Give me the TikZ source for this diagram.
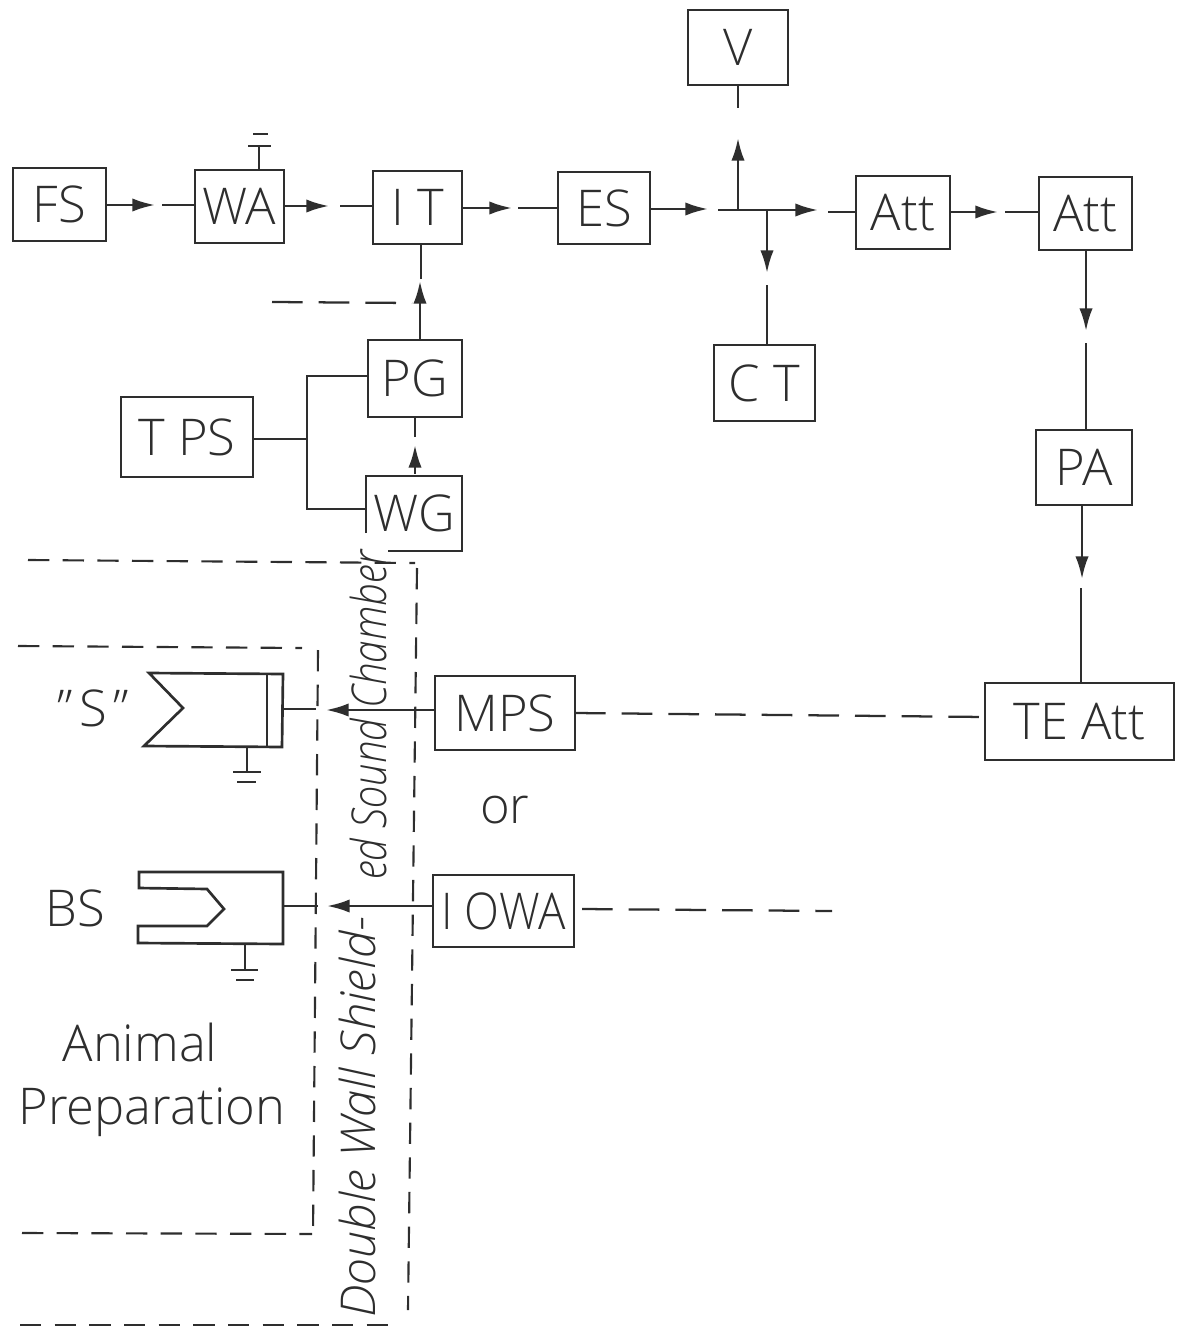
\documentclass[tikz,border=0pt]{standalone}
\usepackage{fontspec}
\setmainfont{Open Sans Light}
\usetikzlibrary{arrows.meta,calc}
\definecolor{ink}{HTML}{2E2E2E}
\tikzset{
  wire/.style={draw=ink,line width=2pt},
  arr/.style={wire,-{Latex[length=17pt,width=10pt]}},
  bx/.style={draw=ink,line width=2pt,inner sep=0pt,text=ink,font=\fontsize{38}{38}\selectfont},
  plain/.style={inner sep=0pt,text=ink,font=\fontsize{38}{38}\selectfont},
  wall/.style={draw=ink,line width=1.6pt,dash pattern=on 16pt off 10pt},
  longdash/.style={draw=ink,line width=1.7pt,dash pattern=on 23pt off 12pt},
  walltext/.style={inner sep=0pt,text=ink,rotate=90,font=\itshape\fontsize{36}{36}\selectfont},
  outline/.style={draw=ink,line width=2pt,line join=miter}
}
\newcommand{\pbox}[6]{\node[bx,minimum width={(#4-#2)*0.75pt},minimum height={(#5-#3)*0.75pt}] (#1) at ({(#2+#4)/2},{(#3+#5)/2}) {#6};}
\begin{document}
\begin{tikzpicture}[x=0.75pt,y=-0.75pt]
\useasboundingbox (0,0) rectangle (1178,1327);
% boxes
\pbox{FS}{13}{168}{106}{241}{FS}
\pbox{WA}{195}{170}{284}{243}{WA}
\pbox{IT}{373}{171}{462}{244}{I T}
\pbox{ES}{558}{172}{650}{244}{ES}
\pbox{V}{688}{10}{788}{85}{V}
\pbox{CT}{714}{345}{815}{421}{C T}
\pbox{AttA}{856}{176}{950}{249}{Att}
\pbox{AttB}{1039}{177}{1132}{250}{Att}
\pbox{PA}{1036}{430}{1132}{505}{PA}
\pbox{TEAtt}{985}{683}{1174}{760}{TE Att}
\pbox{MPS}{435}{676}{575}{750}{MPS}
\pbox{IOWA}{433}{875}{574}{947}{\scalebox{.9}[1]{I OWA}}
\pbox{TPS}{121}{397}{253}{477}{T PS}
\pbox{PG}{368}{340}{462}{417}{PG}
\node[plain,minimum width=72pt,minimum height=57pt] (WG) at (414,513) {WG};
\draw[outline] (366,533) -- (366,476) -- (462,476) -- (462,551) -- (388,551);
% coordinates
\coordinate (t1) at (155,205); \coordinate (r1) at (162,205);
\coordinate (t2) at (329,206); \coordinate (r2) at (340,206);
\coordinate (t3) at (512,208); \coordinate (r3) at (518,208);
\coordinate (t4) at (708,209); \coordinate (j0) at (718,210);
\coordinate (ju) at (738,210); \coordinate (jd) at (767,210);
\coordinate (t5) at (818,210); \coordinate (r5) at (828,212);
\coordinate (tu) at (738,138); \coordinate (ru) at (738,108);
\coordinate (td) at (767,273); \coordinate (rd) at (767,285);
\coordinate (t6) at (998,212); \coordinate (r6) at (1005,212);
\coordinate (t7) at (1086,331); \coordinate (r7) at (1086,343);
\coordinate (t8) at (1082,579); \coordinate (r8) at (1081,588);
\coordinate (t9) at (420,281); \coordinate (r9) at (421,279);
\coordinate (t10) at (415,445); \coordinate (r10) at (415,437);
\coordinate (dl) at (272,302); \coordinate (dr) at (412,303);
\coordinate (bus) at (307,439); \coordinate (bust) at (307,376); \coordinate (busb) at (307,509);
\coordinate (ts) at (326,710); \coordinate (ss) at (316,709);
\coordinate (tb) at (327,906); \coordinate (sb) at (318,906);
\coordinate (ie) at (832,911); \coordinate (me) at (985,717); \coordinate (ms) at (575,713);
\coordinate (is) at (582,909);
% signal chain
\draw[arr] (FS.east |- t1) -- (t1); \draw[wire] (r1) -- (WA.west |- r1);
\draw[arr] (WA.east |- t2) -- (t2); \draw[wire] (r2) -- (IT.west |- r2);
\draw[arr] (IT.east |- t3) -- (t3); \draw[wire] (r3) -- (ES.west |- r3);
\draw[arr] (ES.east |- t4) -- (t4);
\draw[arr] (j0) -- (t5); \draw[wire] (r5) -- (AttA.west |- r5);
\draw[arr] (ju) -- (tu); \draw[wire] (ru) -- (ru |- V.south);
\draw[arr] (jd) -- (td); \draw[wire] (rd) -- (rd |- CT.north);
\draw[arr] (AttA.east |- t6) -- (t6); \draw[wire] (r6) -- (AttB.west |- r6);
\draw[arr] (t7 |- AttB.south) -- (t7); \draw[wire] (r7) -- (r7 |- PA.north);
\draw[arr] (t8 |- PA.south) -- (t8); \draw[wire] (r8) -- (r8 |- TEAtt.north);
\draw[arr] (t9 |- PG.north) -- (t9); \draw[wire] (r9) -- (r9 |- IT.south);
\draw[arr] (t10 |- WG.north) ++(0,-1) -- (t10); \draw[wire] (r10) -- (r10 |- PG.south);
\draw[longdash] (dl) -- (dr);
\draw[wire] (TPS.east |- bus) -- (bus);
\draw[wire] (PG.west |- bust) -- (bust) -- (busb) -- (366,509);
\draw[arr] (MPS.west |- ts) -- (ts); \draw[wire] (ss) -- (283,709);
\draw[arr] (IOWA.west |- tb) -- (tb); \draw[wire] (sb) -- (283,906);
\draw[longdash] (ms) -- (me);
\draw[longdash] (is) -- (ie);
% speaker S
\draw[outline] (149,673) -- (283,674) -- (282,747) -- (144,746) -- (183,708) -- cycle;
\draw[outline] (267,674) -- (267,747);
\draw[wire] (247,747) -- (247,772); \draw[wire] (233,772) -- (261,772); \draw[wire] (237,782) -- (256,782);
% BS
\draw[outline] (139,872) -- (283,872) -- (283,944) -- (138,943) -- (138,926) -- (207,926) -- (224,909) -- (207,889) -- (139,888) -- cycle;
\draw[wire] (245,945) -- (245,970); \draw[wire] (231,970) -- (258,970); \draw[wire] (236,980) -- (254,980);
% WA ground
\draw[wire] (259,170) -- (259,146); \draw[wire] (248,146) -- (271,146); \draw[wire] (253,134) -- (268,134);
% walls
\draw[wall] (28,560) -- (415,563);
\draw[wall] (417,568) -- (408,1310);
\draw[wall] (20,1325) -- (400,1325);
\draw[wall] (18,646) -- (302,648);
\draw[wall] (318,650) -- (313,1235);
\draw[wall] (22,1233) -- (312,1234);
% labels
\node[plain] (or) at (505,810) {or};
\node[plain] (Slab) at (93,708) {"\hspace{5pt}S\hspace{5pt}"};
\node[plain] (BSlab) at (75,908) {BS};
\node[plain] (An) at (140,1042) {Animal};
\node[plain] (Pr) at (152,1112) {Preparation};
\node[walltext] (w1) at (357,1117) {\scalebox{1.02}[1]{Double Wall Shield-}};
\node[walltext] (w2) at (368,715) {\scalebox{.84}[1]{ed Sound Chamber}};
\end{tikzpicture}
\end{document}
